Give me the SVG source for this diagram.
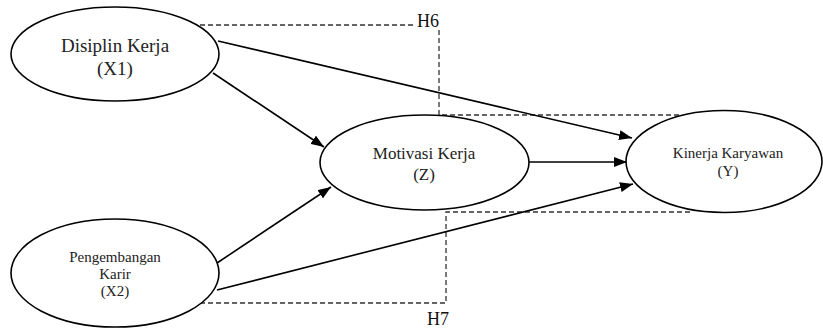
<svg xmlns="http://www.w3.org/2000/svg" width="823" height="328" viewBox="0 0 823 328">
<defs>
<marker id="ah" markerUnits="userSpaceOnUse" markerWidth="13" markerHeight="10" refX="13" refY="5" orient="auto">
<path d="M0,0 L13,5 L0,10 z" fill="#000"/>
</marker>
<style>
.node{fill:#fff;stroke:#000;stroke-width:1.6}
.t{font-family:"Liberation Serif","Times New Roman",serif;fill:#222;text-anchor:middle}
.edge{stroke:#000;stroke-width:1.6;fill:none;marker-end:url(#ah)}
.dash{stroke:#333;stroke-width:1.3;fill:none;stroke-dasharray:5 3}
.h{font-family:"Liberation Serif","Times New Roman",serif;fill:#111;font-size:18px}
</style>
</defs>
<rect width="823" height="328" fill="#fff"/>
<g id="hypotheses">
<path class="dash" d="M200,25 H416 M439,30 V115 H680"/>
<path class="dash" d="M200,303 H446 V212 H692"/>
<text class="h" x="417" y="27">H6</text>
<text class="h" x="427" y="325">H7</text>
</g>
<g id="connectors">
<line class="edge" x1="218" y1="41" x2="632" y2="138"/>
<line class="edge" x1="213" y1="73" x2="324" y2="147"/>
<line class="edge" x1="217" y1="263" x2="331" y2="187"/>
<line class="edge" x1="529" y1="162" x2="627" y2="162"/>
<line class="edge" x1="217" y1="290" x2="633" y2="184"/>
</g>
<g id="X1">
<ellipse class="node" cx="115" cy="54" rx="104" ry="47"/>
<text class="t" x="115" y="52" font-size="19">Disiplin Kerja</text>
<text class="t" x="115" y="75" font-size="19">(X1)</text>
</g>
<g id="X2">
<ellipse class="node" cx="115" cy="273" rx="104" ry="54"/>
<text class="t" x="115" y="262" font-size="15">Pengembangan</text>
<text class="t" x="115" y="279" font-size="15">Karir</text>
<text class="t" x="115" y="296" font-size="15">(X2)</text>
</g>
<g id="Z">
<ellipse class="node" cx="424.5" cy="162.5" rx="104.5" ry="47.5"/>
<text class="t" x="424" y="159" font-size="17">Motivasi Kerja</text>
<text class="t" x="424" y="180" font-size="17">(Z)</text>
</g>
<g id="Y">
<ellipse class="node" cx="724" cy="161.5" rx="98" ry="51"/>
<text class="t" x="728" y="158" font-size="15">Kinerja Karyawan</text>
<text class="t" x="728" y="176" font-size="15">(Y)</text>
</g>
</svg>
